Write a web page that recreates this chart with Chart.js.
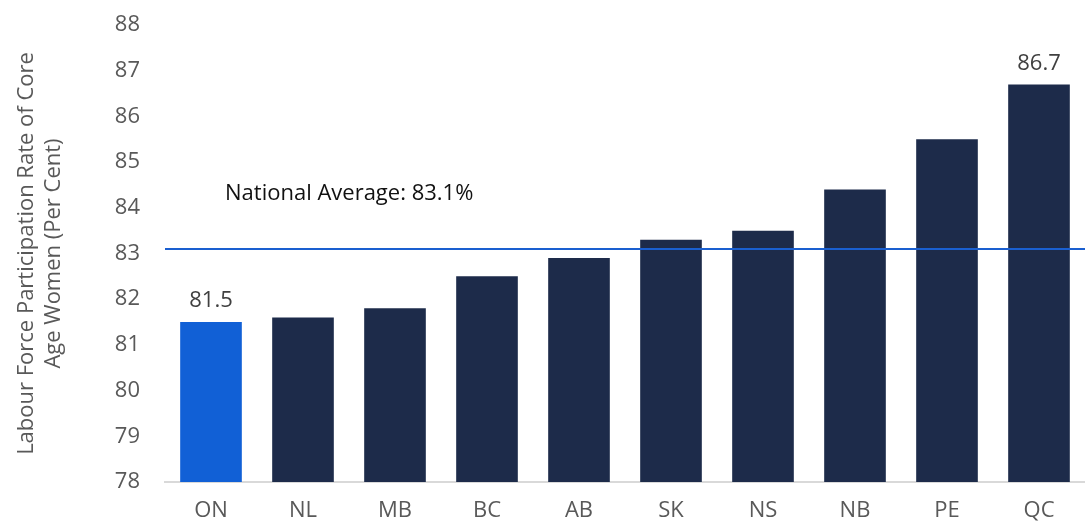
<!DOCTYPE html>
<html>
<head>
<meta charset="utf-8">
<script src="https://cdn.jsdelivr.net/npm/chart.js@4/dist/chart.umd.min.js"></script>
<style>
  html, body { margin: 0; padding: 0; background: #fff; }
  #wrap { width: 1085px; height: 527px; }
</style>
</head>
<body>
<div id="wrap"><canvas id="myChart" width="1085" height="527"></canvas></div>
<script>
// provinces, sorted low to high
var provinces = ['ON', 'NL', 'MB', 'BC', 'AB', 'SK', 'NS', 'NB', 'PE', 'QC'];
var rates = [81.5, 81.6, 81.8, 82.5, 82.9, 83.3, 83.5, 84.4, 85.5, 86.7];
var nationalAvg = 83.1;
var labelled = ['ON', 'QC'];
var yTicks = [78, 79, 80, 81, 82, 83, 84, 85, 86, 87, 88];

var fontFam = "'Open Sans', 'Noto Sans', sans-serif";
var fs = 22;

var barColors = provinces.map(function (p) {
    return p === 'ON' ? '#1160d6' : '#1d2b4a';
});

// average line + value labels
var extras = {
    id: 'extras',
    afterDatasetsDraw: function (chart) {
        var ctx = chart.ctx;
        var area = chart.chartArea;
        var y = chart.scales.y;
        var ly = y.getPixelForValue(nationalAvg);
        ctx.save();
        ctx.strokeStyle = '#1a5fd0';
        ctx.lineWidth = 2;
        ctx.beginPath();
        ctx.moveTo(area.left, ly);
        ctx.lineTo(area.right, ly);
        ctx.stroke();

        ctx.font = fs + 'px ' + fontFam;
        ctx.fillStyle = '#111';
        ctx.textAlign = 'left';
        ctx.textBaseline = 'middle';
        ctx.fillText('National Average: ' + nationalAvg + '%', area.left + 60, ly - 55);

        var meta = chart.getDatasetMeta(0);
        ctx.fillStyle = '#404040';
        ctx.textAlign = 'center';
        ctx.textBaseline = 'bottom';
        provinces.forEach(function (p, i) {
            if (labelled.indexOf(p) < 0) return;
            var bar = meta.data[i];
            ctx.fillText(rates[i].toFixed(1), bar.x, bar.y - 10);
        });
        ctx.restore();
    }
};

var ctx = document.getElementById('myChart').getContext('2d');
var myChart = new Chart(ctx, {
    type: 'bar',
    data: {
        labels: provinces,
        datasets: [{
            data: rates,
            backgroundColor: barColors,
            borderWidth: 0,
            barPercentage: 0.67,
            categoryPercentage: 1.0
        }]
    },
    options: {
        responsive: false,
        animation: false,
        layout: { padding: { top: 25, right: 0, bottom: 0, left: 14 } },
        plugins: {
            legend: { display: false },
            tooltip: { enabled: false }
        },
        scales: {
            x: {
                afterFit: function (s) { s.height = 45; },
                grid: { display: false, drawTicks: false },
                border: { display: true, color: '#d9d9d9', width: 2 },
                ticks: { color: '#595959', font: { size: fs, family: fontFam }, padding: 16 }
            },
            y: {
                min: 78,
                max: 88,
                afterBuildTicks: function (s) {
                    s.ticks = yTicks.map(function (v) { return { value: v }; });
                },
                afterFit: function (s) {
                    s.width = 151;
                    s.paddingTop = 0;
                    s.paddingBottom = 0;
                },
                grid: { display: false, drawTicks: false },
                border: { display: false },
                ticks: { color: '#595959', font: { size: fs, family: fontFam }, padding: 25 },
                title: {
                    display: true,
                    text: ['Labour Force Participation Rate of Core', 'Age Women (Per Cent)'],
                    color: '#595959',
                    font: { size: fs, family: fontFam },
                    padding: { top: 0, bottom: 0 }
                }
            }
        }
    },
    plugins: [extras]
});
</script>
</body>
</html>
